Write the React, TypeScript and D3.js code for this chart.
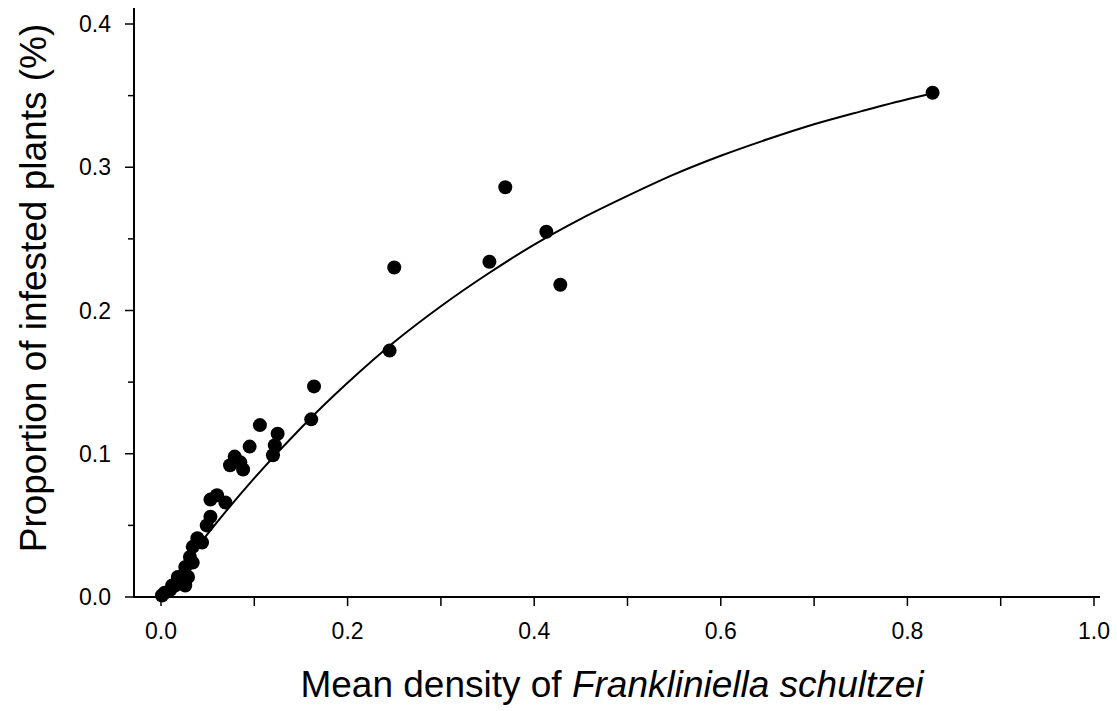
import React from "react";
import * as d3 from "d3";

// Observed points: mean density (x) vs proportion of infested plants (y)
const densityX = [
  0.827, 0.369, 0.413, 0.352, 0.25, 0.428, 0.245, 0.164, 0.161, 0.106,
  0.125, 0.122, 0.12, 0.095, 0.079, 0.074, 0.085, 0.088, 0.06, 0.053,
  0.069, 0.053, 0.049, 0.039, 0.044, 0.034, 0.031, 0.034, 0.026, 0.029,
  0.018, 0.015, 0.026, 0.01, 0.004, 0.001, 0.02, 0.012,
];
const infestedY = [
  0.352, 0.286, 0.255, 0.234, 0.23, 0.218, 0.172, 0.147, 0.124, 0.12,
  0.114, 0.106, 0.099, 0.105, 0.098, 0.092, 0.094, 0.089, 0.071, 0.068,
  0.066, 0.056, 0.05, 0.041, 0.038, 0.035, 0.028, 0.024, 0.021, 0.014,
  0.014, 0.008, 0.008, 0.005, 0.003, 0.001, 0.01, 0.008,
];

// Fitted curve
const curveX = [0, 0.05, 0.1, 0.15, 0.2, 0.25, 0.3, 0.35, 0.4, 0.45, 0.5, 0.55, 0.6, 0.65, 0.7, 0.75, 0.8, 0.83];
const curveY = [0, 0.044, 0.083, 0.118, 0.1495, 0.178, 0.203, 0.2255, 0.246, 0.264, 0.28, 0.295, 0.308, 0.3195, 0.33, 0.339, 0.3475, 0.352];

const xTicks = [0, 0.2, 0.4, 0.6, 0.8, 1.0];
const xMinorTicks = [0.1, 0.3, 0.5, 0.7, 0.9];
const yTicks = [0, 0.1, 0.2, 0.3, 0.4];
const yMinorTicks = [0.05, 0.15, 0.25, 0.35];

export default function App() {
  const W = 1117;
  const H = 711;
  const x = d3.scaleLinear().domain([0, 1]).range([161, 1094]);
  const y = d3.scaleLinear().domain([0, 0.4]).range([597, 24]);
  const font = "'Liberation Sans', Arial, sans-serif";

  const line = d3
    .line<number>()
    .x((d, i) => x(curveX[i]))
    .y((d, i) => y(curveY[i]))
    .curve(d3.curveMonotoneX);

  const x0 = 134;
  const y0 = y(0);

  return (
    <svg
      width={W}
      height={H}
      style={{ position: "absolute", left: 0, top: 0, background: "#fff" }}
    >
      {/* axes */}
      <line x1={x0} x2={1100} y1={y0} y2={y0} stroke="#000" strokeWidth={2} />
      <line x1={x0} x2={x0} y1={y0 + 1} y2={8} stroke="#000" strokeWidth={2} />

      {xTicks.map((t) => (
        <g key={"xt" + t}>
          <line x1={x(t)} x2={x(t)} y1={y0} y2={y0 + 9} stroke="#000" strokeWidth={1.5} />
          <text
            x={x(t)}
            y={y0 + 42}
            textAnchor="middle"
            fontFamily={font}
            fontSize={23}
          >
            {t.toFixed(1)}
          </text>
        </g>
      ))}
      {xMinorTicks.map((t) => (
        <line key={"xm" + t} x1={x(t)} x2={x(t)} y1={y0} y2={y0 + 9} stroke="#000" strokeWidth={1.5} />
      ))}

      {yTicks.map((t) => (
        <g key={"yt" + t}>
          <line x1={x0 - 9} x2={x0} y1={y(t)} y2={y(t)} stroke="#000" strokeWidth={1.5} />
          <text
            x={x0 - 23}
            y={y(t) + 8}
            textAnchor="end"
            fontFamily={font}
            fontSize={23}
          >
            {t.toFixed(1)}
          </text>
        </g>
      ))}
      {yMinorTicks.map((t) => (
        <line key={"ym" + t} x1={x0 - 6} x2={x0} y1={y(t)} y2={y(t)} stroke="#000" strokeWidth={1.5} />
      ))}

      {/* fitted curve */}
      <path d={line(curveY) || ""} fill="none" stroke="#000" strokeWidth={2} />

      {/* points */}
      {densityX.map((d, i) => (
        <circle key={i} cx={x(d)} cy={y(infestedY[i])} r={7} fill="#000" />
      ))}

      {/* axis titles */}
      <text
        x={612}
        y={697}
        textAnchor="middle"
        fontFamily={font}
        fontSize={37}
      >
        Mean density of <tspan fontStyle="italic">Frankliniella schultzei</tspan>
      </text>
      <text
        transform={`translate(46, ${288}) rotate(-90)`}
        textAnchor="middle"
        fontFamily={font}
        fontSize={37}
      >
        Proportion of infested plants (%)
      </text>
    </svg>
  );
}
